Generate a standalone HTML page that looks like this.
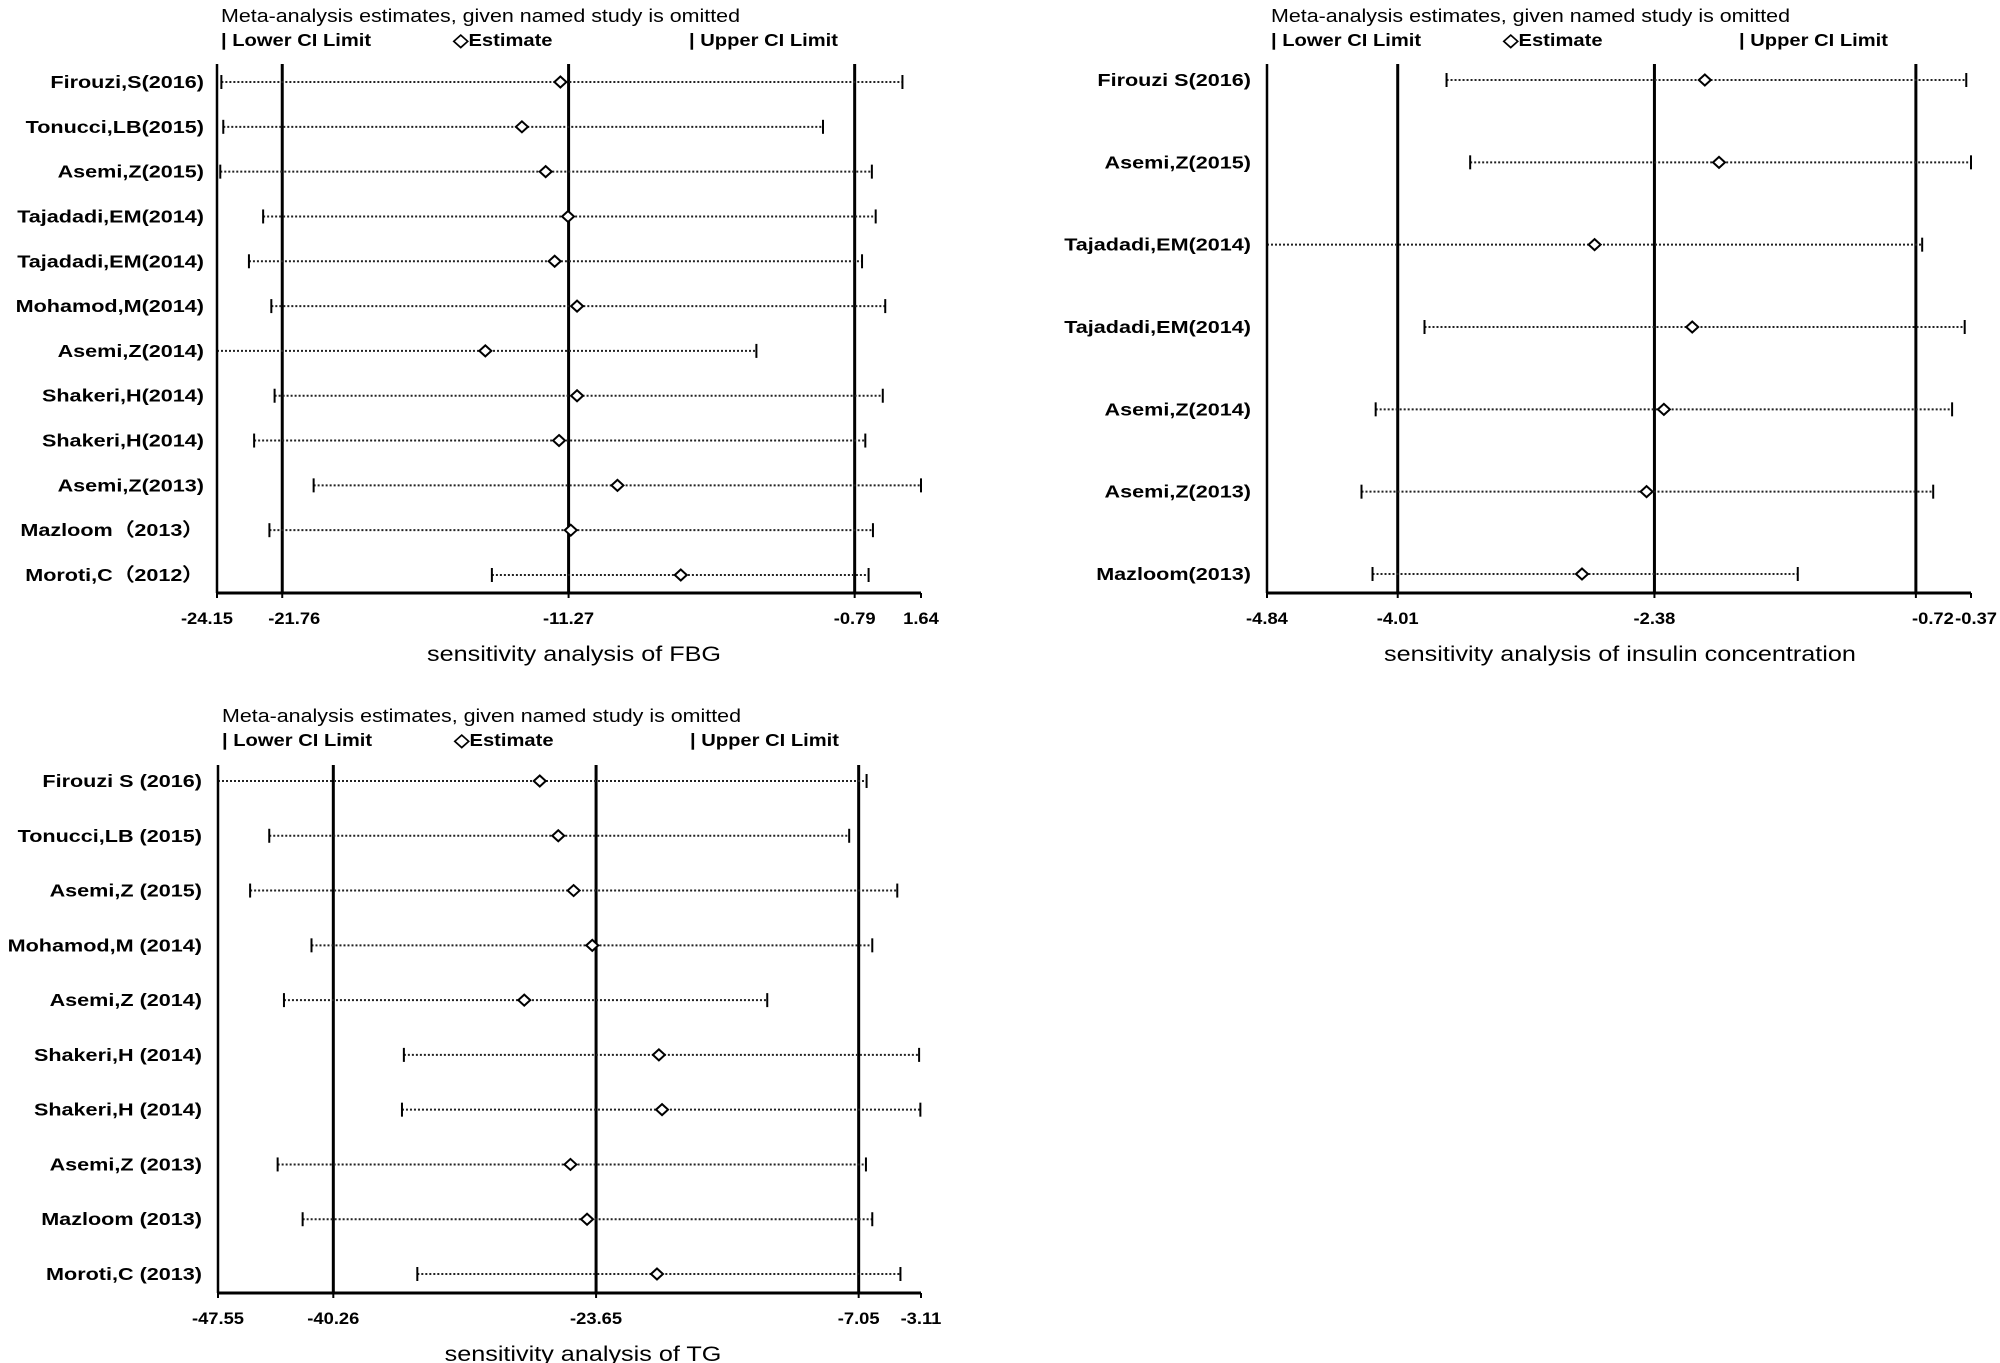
<!DOCTYPE html>
<html><head><meta charset="utf-8"><style>
html,body{margin:0;padding:0;background:#fff;overflow:hidden}
svg{display:block}
text{font-family:"Liberation Sans",Arial,sans-serif;fill:#000}
</style></head><body>
<svg id="c" width="2000" height="1363" viewBox="0 0 2000 1363"></svg>
<script>
// ---- FBG data ----
const fbgStudies=["Firouzi,S(2016)","Tonucci,LB(2015)","Asemi,Z(2015)","Tajadadi,EM(2014)","Tajadadi,EM(2014)","Mohamod,M(2014)","Asemi,Z(2014)","Shakeri,H(2014)","Shakeri,H(2014)","Asemi,Z(2013)","Mazloom（2013）","Moroti,C（2012）"];
const fbgLower=[-23.99,-23.92,-24.03,-22.46,-22.98,-22.16,-24.15,-22.04,-22.79,-20.61,-22.23,-14.08];
const fbgEst=[-11.57,-12.98,-12.11,-11.29,-11.78,-10.96,-14.32,-10.96,-11.62,-9.48,-11.19,-7.16];
const fbgUpper=[0.96,-1.95,-0.16,-0.02,-0.52,0.33,-4.39,0.24,-0.40,1.64,-0.12,-0.28];
const fbgTicks=[-24.15,-21.76,-11.27,-0.79,1.64];
// ---- Insulin data ----
const insStudies=["Firouzi S(2016)","Asemi,Z(2015)","Tajadadi,EM(2014)","Tajadadi,EM(2014)","Asemi,Z(2014)","Asemi,Z(2013)","Mazloom(2013)"];
const insLower=[-3.70,-3.55,-4.84,-3.84,-4.15,-4.24,-4.17];
const insEst=[-2.06,-1.97,-2.76,-2.14,-2.32,-2.43,-2.84];
const insUpper=[-0.40,-0.37,-0.68,-0.41,-0.49,-0.61,-1.47];
const insTicks=[-4.84,-4.01,-2.38,-0.72,-0.37];
// ---- TG data ----
const tgStudies=["Firouzi S (2016)","Tonucci,LB (2015)","Asemi,Z (2015)","Mohamod,M (2014)","Asemi,Z (2014)","Shakeri,H (2014)","Shakeri,H (2014)","Asemi,Z (2013)","Mazloom (2013)","Moroti,C (2013)"];
const tgLower=[-47.55,-44.31,-45.52,-41.64,-43.38,-35.80,-35.92,-43.78,-42.20,-34.95];
const tgEst=[-27.21,-26.04,-25.07,-23.89,-28.19,-19.68,-19.48,-25.27,-24.22,-19.80];
const tgUpper=[-6.55,-7.65,-4.61,-6.19,-12.83,-3.23,-3.15,-6.59,-6.19,-4.41];
const tgTicks=[-47.55,-40.26,-23.65,-7.05,-3.11];

const NS="http://www.w3.org/2000/svg";
const svg=document.getElementById('c');
function mk(tag,attrs,parent,txt){const e=document.createElementNS(NS,tag);for(const k in attrs)e.setAttribute(k,attrs[k]);if(txt!==undefined)e.textContent=txt;(parent||svg).appendChild(e);return e;}
function txt(parent,x,y,s,size,bold,anchor,sx){
  sx=sx||1.12;
  const e=mk('text',{x:x/sx,y:y,'font-size':size,'font-weight':bold?'bold':'normal','text-anchor':anchor||'start',transform:`scale(${sx},1)`},parent,s);
  return e;
}

function panel(p){
  const g=mk('g',{});
  
  
  const lo=p.ticks[0],hi=p.ticks[p.ticks.length-1];
  const x=v=>p.x0+(v-lo)/(hi-lo)*(p.x1-p.x0);
  const n=p.studies.length;
  const y=i=>p.yFirst+(p.yLast-p.yFirst)*i/(n-1);
  let t=mk('text',{x:p.x0+4,y:p.titleY,'font-size':18,textLength:519,lengthAdjust:'spacingAndGlyphs'},g,'Meta-analysis estimates, given named study is omitted');
  
  t=txt(g,p.x0+4,p.legY,'| Lower CI Limit',18,true);
  
  t=txt(g,p.x0+236,p.legY,'◇Estimate',18,true);
  
  t=txt(g,p.x0+472,p.legY,'| Upper CI Limit',18,true);
  
  p.ticks.slice(0,4).forEach((v,k)=>{
    const l=mk('line',{x1:x(v),x2:x(v),y1:p.vTop,y2:p.axisY,stroke:'#000','stroke-width':k===0?2.5:3},g);
    
  });
  const ax=mk('line',{x1:p.x0,x2:p.x1,y1:p.axisY,y2:p.axisY,stroke:'#000','stroke-width':3},g);
  
  p.ticks.forEach((v,k)=>{
    const tk=mk('line',{x1:x(v),x2:x(v),y1:p.axisY,y2:p.axisY+5,stroke:'#000','stroke-width':2},g);
    
    let anchor='middle',px=x(v);
    if(k===0&&p.tightLeft){anchor='end';px=x(v)+16;}
    if(k===1&&p.tightLeft){anchor='start';px=x(v)-14;}
    if(k===3&&p.tightRight){anchor='end';px=x(v)+38;}
    if(k===4&&p.tightRight){anchor='end';px=x(v)+26;}
    const lb=txt(g,px,p.axisY+31,String(v),17,true,anchor,1.08);
    
  });
  t=txt(g,p.axTitleX,p.axisY+68,p.axTitle,21,false,'middle',1.2);
  
  for(let i=0;i<n;i++){
    const yy=y(i);
    const lab=txt(g,p.labelX,yy+6,p.studies[i],18,true,'end',1.2);
    
    const ci=mk('line',{x1:x(p.lower[i]),x2:x(p.upper[i]),y1:yy,y2:yy,stroke:'#222','stroke-width':2,'stroke-dasharray':'2 2'},g);
    
    const l1=mk('line',{x1:x(p.lower[i]),x2:x(p.lower[i]),y1:yy-7,y2:yy+7,stroke:'#000','stroke-width':2},g);
    
    const u1=mk('line',{x1:x(p.upper[i]),x2:x(p.upper[i]),y1:yy-7,y2:yy+7,stroke:'#000','stroke-width':2},g);
    
    const ex=x(p.est[i]);
    const d=mk('polygon',{points:`${ex},${yy-5.5} ${ex+6},${yy} ${ex},${yy+5.5} ${ex-6},${yy}`,fill:'#fff',stroke:'#000','stroke-width':2},g);
    
  }
}
panel({name:'fbg-panel',studies:fbgStudies,lower:fbgLower,est:fbgEst,upper:fbgUpper,ticks:fbgTicks,
  x0:217,x1:921,yFirst:82,yLast:575,axisY:593,vTop:64,titleY:22,legY:46,labelX:204,
  axTitle:'sensitivity analysis of FBG',axTitleX:574,tightLeft:true,tightRight:false});
panel({name:'insulin-panel',studies:insStudies,lower:insLower,est:insEst,upper:insUpper,ticks:insTicks,
  x0:1267,x1:1971,yFirst:80,yLast:574,axisY:593,vTop:64,titleY:22,legY:46,labelX:1251,
  axTitle:'sensitivity analysis of insulin concentration',axTitleX:1620,tightLeft:false,tightRight:true});
panel({name:'tg-panel',studies:tgStudies,lower:tgLower,est:tgEst,upper:tgUpper,ticks:tgTicks,
  x0:218,x1:921,yFirst:781,yLast:1274,axisY:1293,vTop:765,titleY:722,legY:746,labelX:202,
  axTitle:'sensitivity analysis of TG',axTitleX:583,tightLeft:false,tightRight:false});
</script>
</body></html>
